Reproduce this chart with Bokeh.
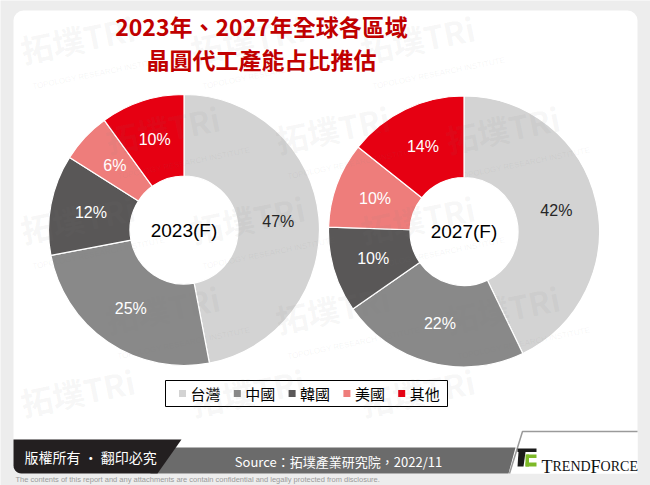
import numpy as np
from bokeh.plotting import figure
from bokeh.models import Range1d, BoxAnnotation, ColumnDataSource
from bokeh.core.properties import value
from bokeh.embed import file_html
from bokeh.resources import INLINE

W, H = 650, 485

# ---------------- data ----------------
regions = ["台灣", "中國", "韓國", "美國", "其他"]
colors = ["#D3D3D3", "#898989", "#595757", "#EE7D7B", "#E60012"]
label_colors = ["#262626", "white", "white", "white", "white"]
share_2023 = [47, 25, 12, 6, 10]
share_2027 = [42, 22, 10, 10, 14]
years = ["2023(F)", "2027(F)"]

title_lines = ["2023年、2027年全球各區域", "晶圓代工產能占比推估"]
source_text = "Source：拓墣產業研究院，2022/11"
copyright_text = "版權所有 · 翻印必究"
disclaimer = ("The contents of this report and any attachments are contain "
              "confidential and legally protected from disclosure.")
CJK = "Noto Sans CJK TC"


def Y(v):
    return H - v


p = figure(width=W, height=H, x_range=Range1d(0, W), y_range=Range1d(0, H),
           min_border=0, toolbar_location=None, output_backend="svg",
           x_axis_location=None, y_axis_location=None,
           background_fill_color="#EDEDED", border_fill_color="#EDEDED",
           outline_line_color=None)
p.grid.visible = False

card = BoxAnnotation(left=13, right=637, top=Y(10), bottom=Y(473),
                     fill_color="white", fill_alpha=1, line_color=None,
                     border_radius=10, level="underlay")
p.add_layout(card)

# ---------------- donuts ----------------
centers = [(183.5, 229.5), (463.5, 231.0)]
R_IN, R_OUT = 54, 135.5
R_LAB = (R_IN + R_OUT) / 2
label_sources = []
for (cx, cy), vals in zip(centers, [share_2023, share_2027]):
    v = np.array(vals, dtype=float)
    frac = v / v.sum()
    cum = np.concatenate([[0.0], np.cumsum(frac)[:-1]])
    start = np.pi / 2 - cum * 2 * np.pi
    end = np.pi / 2 - (cum + frac) * 2 * np.pi
    mid = (start + end) / 2
    src = ColumnDataSource(dict(start=start, end=end, color=colors))
    p.annular_wedge(x=cx, y=Y(cy), inner_radius=R_IN, outer_radius=R_OUT,
                    start_angle="start", end_angle="end", direction="clock",
                    fill_color="color", line_color="white", line_width=1.2,
                    source=src)
    label_sources.append(ColumnDataSource(dict(
        x=cx + R_LAB * np.cos(mid), y=Y(cy) + R_LAB * np.sin(mid),
        text=[f"{int(a)}%" for a in vals], color=label_colors)))

# ---------------- legend box ----------------
p.quad(left=165, right=447, top=Y(380), bottom=Y(406),
       fill_color="white", line_color="black", line_width=1)
leg_x = np.array([182 + i * 54.8 for i in range(len(regions))])
p.scatter(x=leg_x, y=[Y(393)] * len(regions), marker="square", size=7,
          fill_color=colors, line_color=None)

# ---------------- watermark (kept inside the card) ----------------
wm_x, wm_y, sub_x, sub_y = [], [], [], []
ang = 0.2
for r, yy in enumerate([72, 162, 252, 342, 425]):
    cols = [25, 195, 365] if r % 2 == 0 else [110, 280, 450]
    for xx in cols:
        wm_x.append(xx)
        wm_y.append(Y(yy))
        if yy < 420:
            dx, dy = 4, -20
            sub_x.append(xx + dx * np.cos(ang) - dy * np.sin(ang))
            sub_y.append(Y(yy) + dx * np.sin(ang) + dy * np.cos(ang))
p.text(x=wm_x, y=wm_y, text=["拓墣TRi"] * len(wm_x), angle=ang,
       text_font=value(CJK), text_font_style="bold", text_font_size="32px",
       text_color="#7F7F7F", text_alpha=0.07, text_align="left",
       text_baseline="bottom")
p.text(x=sub_x, y=sub_y, text=["TOPOLOGY RESEARCH INSTITUTE"] * len(sub_x),
       angle=ang, text_font=value("Liberation Sans"), text_font_size="8px",
       text_color="#7F7F7F", text_alpha=0.09, text_align="left",
       text_baseline="bottom")

# ---------------- texts ----------------
for src in label_sources:
    p.text(x="x", y="y", text="text", source=src, text_color="color",
           text_font=value("Liberation Sans"), text_font_size="16px",
           text_align="center", text_baseline="middle")
p.text(x=[c[0] for c in centers], y=[Y(c[1]) for c in centers], text=years,
       text_font=value("Liberation Sans"), text_font_size="19px",
       text_color="black", text_align="center", text_baseline="middle")
p.text(x=leg_x + 8, y=[Y(393)] * len(regions), text=regions,
       text_font=value(CJK), text_font_size="15px", text_color="black",
       text_align="left", text_baseline="middle")
p.text(x=[261, 261], y=[Y(25), Y(58)], text=title_lines,
       text_font=value(CJK), text_font_style="bold", text_font_size="23px",
       text_color="#C00000", text_align="center", text_baseline="middle")

# ---------------- footer ----------------
p.patch(x=[150, 515, 508, 150], y=[Y(447), Y(447), Y(473), Y(473)],
        fill_color="#6B6B6B", line_color=None)
arc_t = np.linspace(0, np.pi / 2, 8)
dk_x = [13, 181, 157] + [21 - 8 * np.sin(t) for t in arc_t]
dk_y = [Y(439), Y(439), Y(473)] + [Y(465 + 8 * np.cos(t)) for t in arc_t]
p.patch(x=dk_x, y=dk_y, fill_color="#231F20", line_color=None)
p.patch(x=[509, 522, 637, 637], y=[Y(473), Y(431), Y(431), Y(473)],
        fill_color="white", line_color=None)
p.line(x=[509, 522, 637], y=[Y(473), Y(431), Y(431)], line_color="#9A9A9A",
       line_width=1.5)

# logo icon
p.quad(left=517, right=536, top=Y(448), bottom=Y(451.5), fill_color="#1A1A1A",
       line_color=None)
p.patch(x=[518, 525, 523, 517], y=[Y(451.5), Y(451.5), Y(466), Y(466)],
        fill_color="#1A1A1A", line_color=None)
p.quad(left=[526, 525, 525], right=[536, 536, 528.5],
       top=[Y(454), Y(462), Y(454)], bottom=[Y(457.5), Y(466), Y(466)],
       fill_color="#7DB928", line_color=None)

# TrendForce wordmark (small caps)
parts = [("T", 18, 0.611), ("REND", 14, 2.722), ("F", 18, 0.556), ("ORCE", 14, 2.667)]
xx = 541
for txt, fs, em in parts:
    p.text(x=[xx], y=[Y(466)], text=[txt], text_font=value("Liberation Serif"),
           text_font_size=f"{fs}px", text_color="#111111", text_align="left",
           text_baseline="alphabetic")
    xx += fs * em

p.text(x=[24], y=[Y(456)], text=[copyright_text], text_font=value(CJK),
       text_font_size="14px", text_color="white", text_align="left",
       text_baseline="middle")
p.text(x=[338], y=[Y(461)], text=[source_text], text_font=value(CJK),
       text_font_size="13px", text_color="white", text_align="center",
       text_baseline="middle")
p.text(x=[15], y=[Y(479)], text=[disclaimer],
       text_font=value("Liberation Sans"), text_font_size="7.5px",
       text_color="#9A9A9A", text_align="left", text_baseline="middle")

open("out.html", "w").write(file_html(p, INLINE))
